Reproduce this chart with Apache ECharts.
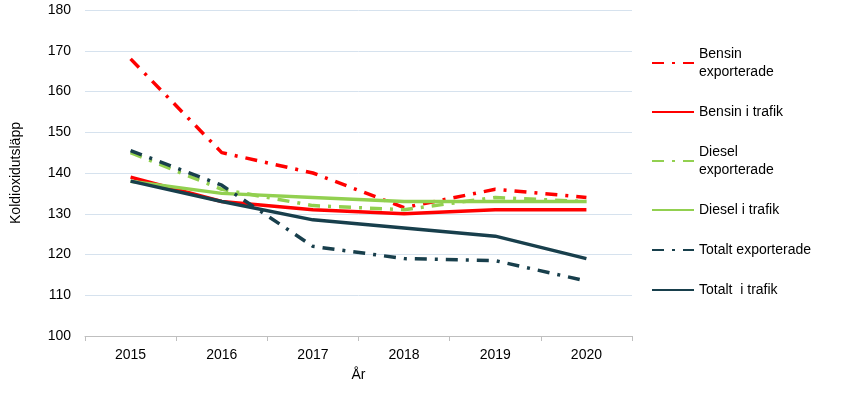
<!DOCTYPE html>
<html>
<head>
  <meta charset="utf-8">
  <script src="https://cdn.jsdelivr.net/npm/echarts@6/dist/echarts.min.js"></script>
</head>
<body style="margin:0;width:848px;height:401px;">
<div id="container" style="width:848px;height:401px;"></div>
<script>
var years = ['2015', '2016', '2017', '2018', '2019', '2020'];
var bensinExp = [168, 145, 140, 131.5, 136, 134];
var bensinTrafik = [139, 133, 131, 130, 131, 131];
var dieselExp = [145, 136, 132, 131, 134, 133];
var dieselTrafik = [138, 135, 134, 133, 133, 133];
var totaltExp = [145.5, 137, 122, 119, 118.5, 113.5];
var totaltTrafik = [138, 133, 128.5, 126.5, 124.5, 119];

var red = '#ff0000', green = '#92d050', teal = '#183f4c';
function mk(name, data, color, dashed) {
  return {
    name: name, type: 'line', data: data, symbol: 'none',
    lineStyle: { color: color, width: 3.5, type: dashed ? [12, 8, 3, 8] : 'solid' },
    itemStyle: { color: color }
  };
}
var chart = echarts.init(document.getElementById('container'));
chart.setOption({
  animation: false,
  textStyle: { fontFamily: 'Liberation Sans, Arial, sans-serif' },
  grid: { left: 85, right: 216, top: 10, bottom: 65 },
  xAxis: {
    type: 'category', data: years, name: 'År', nameLocation: 'middle', nameGap: 32,
    nameTextStyle: { fontSize: 14, color: '#000' },
    axisLine: { lineStyle: { color: '#bfbfbf' } },
    axisTick: { show: true, alignWithLabel: false, lineStyle: { color: '#bfbfbf' } },
    axisLabel: { color: '#000', fontSize: 14, margin: 12 }
  },
  yAxis: {
    type: 'value', min: 100, max: 180, interval: 10,
    name: 'Koldioxidutsläpp', nameLocation: 'middle', nameGap: 62,
    nameTextStyle: { fontSize: 14, color: '#000' },
    axisLine: { show: false }, axisTick: { show: false },
    axisLabel: { color: '#000', fontSize: 14, margin: 14 },
    splitLine: { lineStyle: { color: '#d6e2ee' } }
  },
  legend: {
    orient: 'vertical', left: 646, top: 40, itemGap: 22, itemWidth: 42, itemHeight: 14,
    itemStyle: { opacity: 0 },
    textStyle: { fontSize: 14, color: '#000', lineHeight: 18 },
    data: ['Bensin\nexporterade', 'Bensin i trafik', 'Diesel\nexporterade', 'Diesel i trafik', 'Totalt exporterade', 'Totalt  i trafik']
  },
  series: [
    mk('Bensin\nexporterade', bensinExp, red, true),
    mk('Bensin i trafik', bensinTrafik, red, false),
    mk('Diesel\nexporterade', dieselExp, green, true),
    mk('Diesel i trafik', dieselTrafik, green, false),
    mk('Totalt exporterade', totaltExp, teal, true),
    mk('Totalt  i trafik', totaltTrafik, teal, false)
  ]
});
</script>
</body>
</html>
